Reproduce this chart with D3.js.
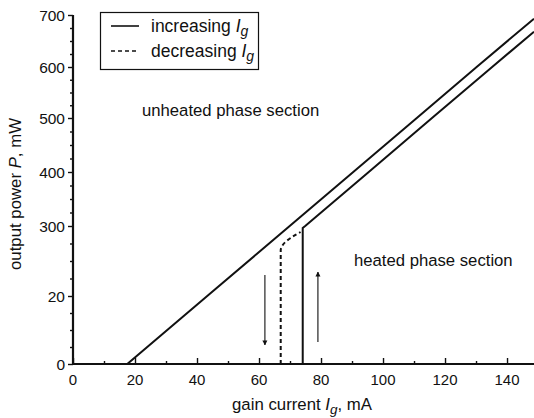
<!DOCTYPE html>
<html>
<head>
<meta charset="utf-8">
<script src="https://cdn.jsdelivr.net/npm/d3@7"></script>
<style>
  html, body { margin: 0; padding: 0; background: #fff; }
  svg { display: block; }
  text { font-family: "Liberation Sans", Arial, Helvetica, sans-serif; fill: #111; }
</style>
</head>
<body>
<svg id="chart" width="534" height="418"></svg>
<script>
// Gain current Ig (mA) on x, output power P (mW) on a broken y axis.
const xTicks = [0, 20, 40, 60, 80, 100, 120, 140];
const xMinorTicks = [10, 30, 50, 70, 90, 110, 130];
const yTicks = [0, 20, 300, 400, 500, 600, 700];

// Solid branch above threshold (shared by both sweep directions)
const upperIg = [0, 17.5, 43.3, 69.9, 90.4, 110.9, 130.2, 148.7];
const upperP  = [0, 0, 20, 300, 400, 500, 600, 693];

// Increasing Ig: stays dark until the jump at ~74 mA
const incIg = [0, 74.1, 74.1, 74.9, 95.4, 115.8, 135.2, 148.7];
const incP  = [0, 0, 292, 300, 400, 500, 600, 668];

// Decreasing Ig: drops out at ~67 mA
const decIg = [67.0, 67.0, 67.3, 67.9, 73.4];
const decP  = [0, 204, 216, 228, 276];

// Sweep-direction arrows [Ig, P start, P end]
const arrowDown = [61.9, 104, 5.6];
const arrowUp   = [79.0, 6.5, 116];

const svg = d3.select("#chart");

const x = d3.scaleLinear().domain([0, 148.7]).range([73, 534]);
// Piecewise scale: the axis is compressed differently below and above 300 mW
const y = d3.scaleLinear()
  .domain(yTicks)
  .range([364, 296, 226, 172, 118, 67, 15]);

// y minor ticks: three evenly spaced between each labelled value
const yMinor = [];
for (let i = 0; i < yTicks.length - 1; i++) {
  const a = yTicks[i], b = yTicks[i + 1];
  for (let k = 1; k < 4; k++) yMinor.push(a + (b - a) * k / 4);
}

const ink = "#111";

// x axis: ticks point into the plot
const xAxis = svg.append("g").attr("transform", `translate(0,${y(0)})`);
xAxis.call(d3.axisTop(x).tickValues(xTicks).tickSize(6).tickFormat(""));
xAxis.append("g").call(d3.axisTop(x).tickValues(xMinorTicks).tickSize(3).tickFormat(""));
xAxis.selectAll("path.domain").remove();
xAxis.selectAll("line").attr("stroke", ink).attr("stroke-width", 1.4);
xAxis.append("line")
  .attr("x1", x(0)).attr("x2", x(148.7))
  .attr("stroke", ink).attr("stroke-width", 2.2);
xAxis.selectAll(".xlab").data(xTicks).enter().append("text")
  .attr("class", "xlab")
  .attr("x", d => x(d)).attr("y", 21)
  .attr("text-anchor", "middle")
  .attr("font-size", 15)
  .text(d => d);

// y axis: ticks point outward
const yAxis = svg.append("g").attr("transform", `translate(${x(0)},0)`);
yAxis.call(d3.axisLeft(y).tickValues(yTicks).tickSize(5).tickFormat(""));
yAxis.append("g").call(d3.axisLeft(y).tickValues(yMinor).tickSize(3).tickFormat(""));
yAxis.selectAll("path.domain").remove();
yAxis.selectAll("line").attr("stroke", ink).attr("stroke-width", 1.4);
yAxis.append("line")
  .attr("y1", y(0)).attr("y2", y(700))
  .attr("stroke", ink).attr("stroke-width", 2.2);
yAxis.selectAll(".ylab").data(yTicks).enter().append("text")
  .attr("class", "ylab")
  .attr("x", -8).attr("y", d => y(d) + 5.5)
  .attr("text-anchor", "end")
  .attr("font-size", 15.5)
  .text(d => d);

// Curves
const line = d3.line().x(d => x(d[0])).y(d => y(d[1]));
const zip = (a, b) => a.map((v, i) => [v, b[i]]);

svg.append("path").datum(zip(upperIg, upperP))
  .attr("d", line).attr("fill", "none").attr("stroke", ink).attr("stroke-width", 2);
svg.append("path").datum(zip(incIg, incP))
  .attr("d", line).attr("fill", "none").attr("stroke", ink).attr("stroke-width", 2);
svg.append("path").datum(zip(decIg, decP))
  .attr("d", d3.line().x(d => x(d[0])).y(d => y(d[1])).curve(d3.curveMonotoneY))
  .attr("fill", "none").attr("stroke", ink).attr("stroke-width", 2)
  .attr("stroke-dasharray", "4,3");

// Arrowheads
svg.append("defs").append("marker")
  .attr("id", "head").attr("viewBox", "0 0 10 10")
  .attr("refX", 9).attr("refY", 5)
  .attr("markerUnits", "userSpaceOnUse")
  .attr("markerWidth", 5).attr("markerHeight", 9)
  .attr("orient", "auto")
  .append("path").attr("d", "M0,0 L10,5 L0,10 Z").attr("fill", ink);

[arrowDown, arrowUp].forEach(a => {
  svg.append("line")
    .attr("x1", x(a[0])).attr("x2", x(a[0]))
    .attr("y1", y(a[1])).attr("y2", y(a[2]))
    .attr("stroke", ink).attr("stroke-width", 1.1)
    .attr("marker-end", "url(#head)");
});

// Region labels
svg.append("text").attr("x", 142).attr("y", 116)
  .attr("font-size", 16.7).text("unheated phase section");
svg.append("text").attr("x", 354).attr("y", 266)
  .attr("font-size", 16.7).text("heated phase section");

// Axis titles
const xt = svg.append("text").attr("x", 302).attr("y", 410)
  .attr("text-anchor", "middle").attr("font-size", 16.8);
xt.append("tspan").text("gain current ");
xt.append("tspan").attr("font-style", "italic").text("I");
xt.append("tspan").attr("font-style", "italic").attr("font-size", 13.5).attr("dy", 4).text("g");
xt.append("tspan").attr("dy", -4).text(", mA");

const yt = svg.append("text")
  .attr("transform", "translate(21,194) rotate(-90)")
  .attr("text-anchor", "middle").attr("font-size", 16.8);
yt.append("tspan").text("output power ");
yt.append("tspan").attr("font-style", "italic").text("P");
yt.append("tspan").text(", mW");

// Legend
const lg = svg.append("g");
lg.append("rect").attr("x", 100.5).attr("y", 12.5).attr("width", 158).attr("height", 57)
  .attr("fill", "#fff").attr("stroke", ink).attr("stroke-width", 1.2);
const legendItems = [
  { label: "increasing ", dash: null, yy: 26 },
  { label: "decreasing ", dash: "4,3", yy: 51 }
];
legendItems.forEach(it => {
  lg.append("line").attr("x1", 111).attr("x2", 139)
    .attr("y1", it.yy).attr("y2", it.yy)
    .attr("stroke", ink).attr("stroke-width", 1.6)
    .attr("stroke-dasharray", it.dash);
  const t = lg.append("text").attr("x", 151).attr("y", it.yy + 5.5).attr("font-size", 17.5);
  t.append("tspan").text(it.label);
  t.append("tspan").attr("font-style", "italic").text("I");
  t.append("tspan").attr("font-style", "italic").attr("font-size", 14).attr("dy", 4).text("g");
});
</script>
</body>
</html>
